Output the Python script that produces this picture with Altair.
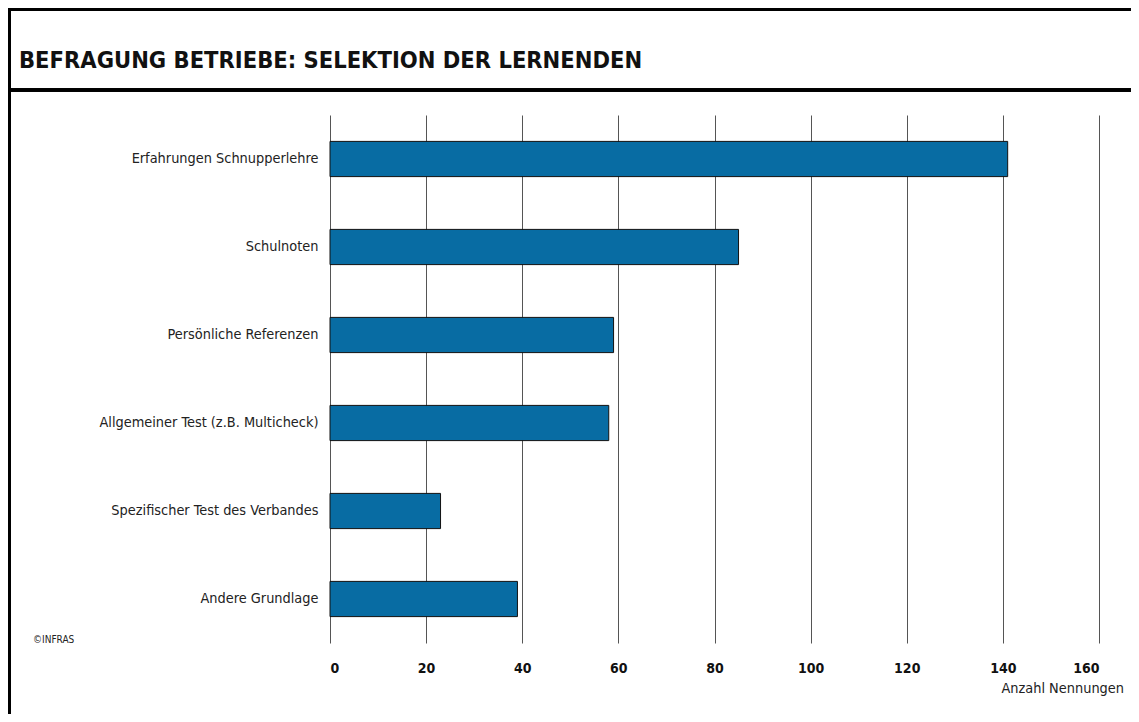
import altair as alt
import pandas as pd

categories = [
    "Erfahrungen Schnupperlehre",
    "Schulnoten",
    "Persönliche Referenzen",
    "Allgemeiner Test (z.B. Multicheck)",
    "Spezifischer Test des Verbandes",
    "Andere Grundlage",
]
values = [141, 85, 59, 58, 23, 39]
x_ticks = [0, 20, 40, 60, 80, 100, 120, 140, 160]

title_text = "BEFRAGUNG BETRIEBE: SELEKTION DER LERNENDEN"
x_title = "Anzahl Nennungen"
credit = "©INFRAS"

FONT = "DejaVu Sans Condensed"
df = pd.DataFrame({"cat": categories, "val": values})

W, H = 769, 528

bars = alt.Chart(df).mark_bar(color="#086ca3", stroke="#111111", strokeWidth=1).encode(
    x=alt.X("val:Q",
            scale=alt.Scale(domain=[0, 160], nice=False),
            axis=alt.Axis(values=x_ticks, title=None, grid=True, gridColor="#555555",
                          gridWidth=1, ticks=False, domain=False, labelFont=FONT,
                          labelFontSize=14, labelFontWeight="bold", labelColor="#111111",
                          labelPadding=18)),
    y=alt.Y("cat:N", sort=categories,
            scale=alt.Scale(paddingInner=0.6, paddingOuter=0.3),
            axis=alt.Axis(title=None, ticks=False, domain=False, labelFont=FONT,
                          labelFontSize=14.4, labelColor="#222222", labelPadding=12,
                          labelLimit=400)),
)

frame_top = alt.Chart(df).mark_rule(color="black", strokeWidth=3).encode(
    x=alt.value(-322), x2=alt.value(W + 40), y=alt.value(-105.5))
frame_left = alt.Chart(df).mark_rule(color="black", strokeWidth=3).encode(
    x=alt.value(-320.5), y=alt.value(-107), y2=alt.value(H + 80))
title_line = alt.Chart(df).mark_rule(color="black", strokeWidth=3).encode(
    x=alt.value(-322), x2=alt.value(W + 40), y=alt.value(-25))

title = alt.Chart(pd.DataFrame({"t": [title_text]})).mark_text(
    align="left", baseline="alphabetic", font=FONT, fontSize=23.5, fontWeight="bold",
    color="#111111").encode(x=alt.value(-311), y=alt.value(-47), text="t:N")

xt = alt.Chart(pd.DataFrame({"t": [x_title]})).mark_text(
    align="right", baseline="middle", font=FONT, fontSize=14.4, color="#222222"
).encode(x=alt.value(W + 25), y=alt.value(H + 46), text="t:N")

cr = alt.Chart(pd.DataFrame({"t": [credit]})).mark_text(
    align="left", baseline="middle", font=FONT, fontSize=10, color="#222222"
).encode(x=alt.value(-297), y=alt.value(H - 3), text="t:N")

chart = alt.layer(bars, frame_top, frame_left, title_line, title, xt, cr).properties(
    width=W, height=H,
    autosize=alt.AutoSizeParams(type="none"),
    padding={"left": 322, "top": 107, "right": 32, "bottom": 71},
).configure_view(stroke=None)

chart.save("out.html", embed_options={"renderer": "svg", "actions": False})
